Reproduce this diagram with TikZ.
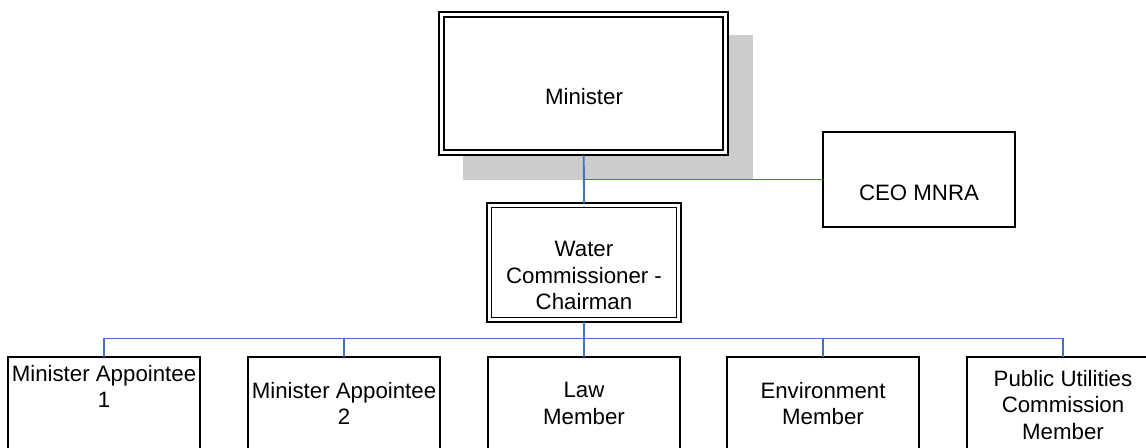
\documentclass[tikz,border=0pt]{standalone}
\usepackage{fontspec}
\setmainfont{Liberation Sans}
\definecolor{conn}{HTML}{4472C4}
\definecolor{shadowgray}{HTML}{CCCCCC}
\begin{document}
\begin{tikzpicture}[x=0.75pt,y=-0.75pt,
  box/.style={draw=black,line width=1.3pt,fill=white,rectangle,inner sep=0pt,outer sep=0pt,
    minimum width={192*0.75pt},minimum height={119*0.75pt}},
  txt/.style={font=\fontsize{16.7}{20}\selectfont,align=center,inner sep=0pt,text=black},
  link/.style={draw=conn,line width=1.4pt}]
\useasboundingbox (0,0) rectangle (1146,447);
\clip (0,0) rectangle (1146,447);
% Minister
\node[box,minimum width={289*0.75pt},minimum height={143*0.75pt},draw=none,fill=none] (m) at (583.75,83.75) {};
\fill[shadowgray] ([shift={(23.5,23)}]m.north west) rectangle ([shift={(24.5,24.5)}]m.south east);
\node[box,minimum width={289*0.75pt},minimum height={143*0.75pt}] (mb) at (m) {};
\draw[line width=1.3pt] ([shift={(5,5)}]mb.north west) rectangle ([shift={(-5,-5)}]mb.south east);
\node[txt] (mt) at (584,97) {Minister};
% CEO
\node[box,minimum height={95*0.75pt}] (c) at (919,179.5) {};
\node[txt] (ct) at (919,193) {CEO MNRA};
% Water commissioner
\node[box,minimum width={194*0.75pt}] (w) at (584,262.5) {};
\draw[line width=1.3pt] ([shift={(4.5,4.5)}]w.north west) rectangle ([shift={(-4.5,-4.5)}]w.south east);
\node[txt] (wt) at (584,275.5) {Water\\Commissioner -\\Chairman};
% bottom row
\node[box] (b1) at (104,416.5) {};
\node[box] (b2) at (344,416.5) {};
\node[box] (b3) at (584,416.5) {};
\node[box] (b4) at (823,416.5) {};
\node[box] (b5) at (1063,416.5) {};
\node[txt] (t1) at (104,386.5) {Minister Appointee\\1};
\node[txt] (t2) at (344,403.5) {Minister Appointee\\2};
\node[txt] (t3) at (584,403.5) {Law\\Member};
\node[txt] (t4) at (823,403.5) {Environment\\Member};
\node[txt] (t5) at (1063,405) {Public Utilities\\Commission\\Member};
% connectors
\coordinate (bus) at (584,338.5);
\draw[link] (mb.south) -- (w.north);
\coordinate (jc) at (mb.south |- c.west);
\draw[link] (jc) -- (c.west);
\draw[link] (w.south) -- (b3.north);
\draw[link] (b1.north) -- (b1.north |- bus) -- (b5.north |- bus) -- (b5.north);
\draw[link] (b2.north) -- (b2.north |- bus);
\draw[link] (b4.north) -- (b4.north |- bus);
\end{tikzpicture}
\end{document}
